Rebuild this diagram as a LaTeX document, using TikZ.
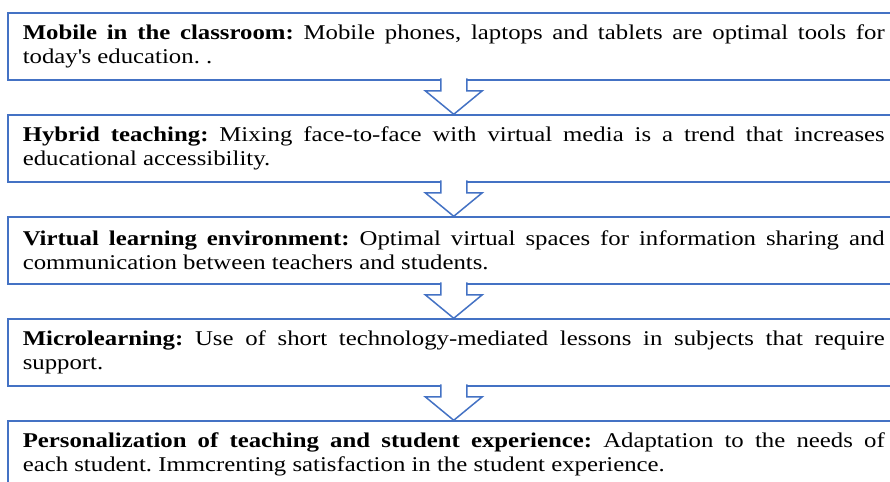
\documentclass[tikz,border=0pt]{standalone}
\usepackage{fontspec}
\setmainfont{Liberation Serif}[FakeStretch=1.18]
\usetikzlibrary{positioning,calc}
\usepackage{xcolor}
\definecolor{boxblue}{RGB}{68,114,196}
\frenchspacing
\tikzstyle{blueline} = [
    % draw=blue,
    draw=boxblue,
    line width=0.75pt
]

% hollow block arrow from the south of #1 to the north of #2
\newcommand{\trendarrow}[2]{%
    \filldraw[blueline, fill=white]
        ($(#1.south)+(-6.5pt,1.2pt)$) -- ($(#1.south)+(-6.5pt,-5pt)$)
        -- ($(#1.south)+(-14.25pt,-5pt)$) -- (#2.north)
        -- ($(#1.south)+(14.25pt,-5pt)$) -- ($(#1.south)+(6.5pt,-5pt)$)
        -- ($(#1.south)+(6.5pt,1.2pt)$);
}

\begin{document}
\begin{tikzpicture}[
        trendbox/.style={
            rectangle, blueline, fill=white,
            text width=431pt, align=justify,
            inner xsep=7.5pt, inner ysep=0pt,
            minimum height=33.5pt,
            font=\fontsize{10.5}{12}\selectfont
        },
        node distance=16.75pt
    ]
        \useasboundingbox (0,0) rectangle (445pt,-241pt);
        \clip (0,0) rectangle (445pt,-241pt);

        \node[trendbox, anchor=north west] (mobile) at (3.5pt,-6.15pt) {\textbf{Mobile in the classroom:} Mobile phones, laptops and tablets are optimal tools for\linebreak today\textquotesingle s education. .};
        \node[trendbox] (hybrid) [below = of mobile] {\textbf{Hybrid teaching:} Mixing face-to-face with virtual media is a trend that increases\linebreak educational accessibility.};
        \node[trendbox] (virtual) [below = of hybrid] {\textbf{Virtual learning environment:} Optimal virtual spaces for information sharing and\linebreak communication between teachers and students.};
        \node[trendbox] (micro) [below = of virtual] {\textbf{Microlearning:} Use of short technology-mediated lessons in subjects that require\linebreak support.};
        \node[trendbox] (personal) [below = of micro] {\textbf{Personalization of teaching and student experience:} Adaptation to the needs of\linebreak each student. Immcrenting satisfaction in the student experience.};

        \trendarrow{mobile}{hybrid}
        \trendarrow{hybrid}{virtual}
        \trendarrow{virtual}{micro}
        \trendarrow{micro}{personal}
    \end{tikzpicture}
\end{document}
